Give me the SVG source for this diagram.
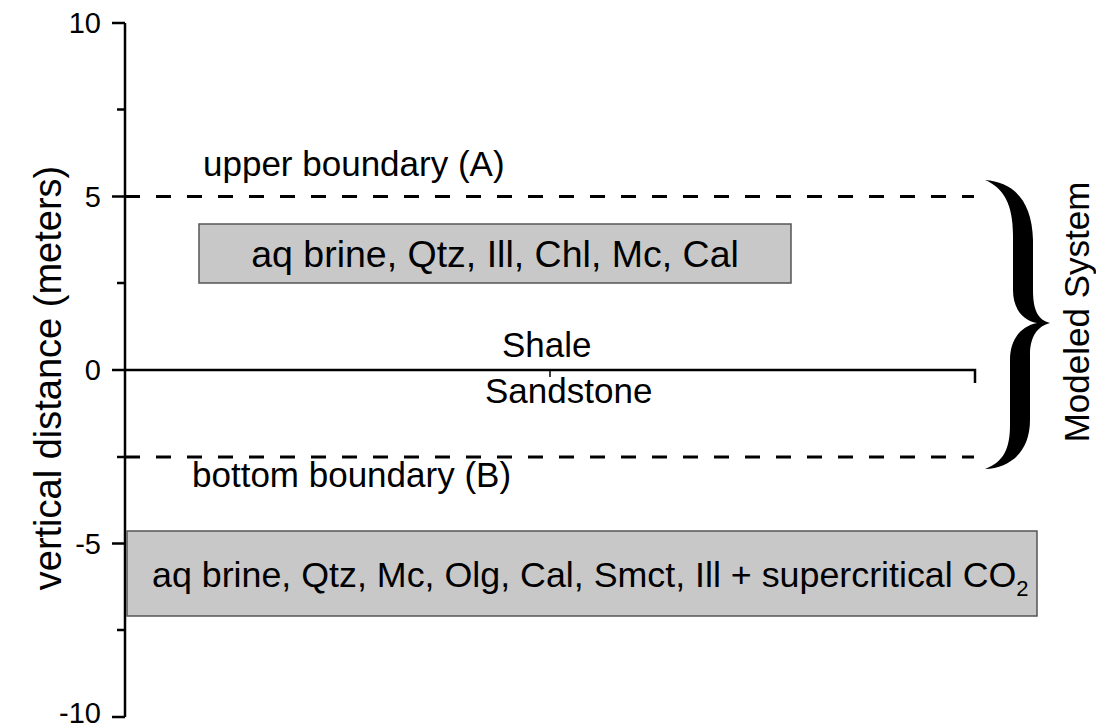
<svg xmlns="http://www.w3.org/2000/svg" width="1096" height="727" viewBox="0 0 1096 727">
  <style>
    .t { font-family: "Liberation Sans", Arial, sans-serif; fill: #000; }
    .lbl { font-size: 35px; }
    .tick { font-size: 29px; text-anchor: end; }
    .ax { stroke: #000; stroke-width: 2.5; fill: none; }
    .dash { stroke: #000; stroke-width: 2.8; stroke-dasharray: 15 16; fill: none; }
    .layer { fill: #c8c8c8; stroke: #555; stroke-width: 1.5; }
  </style>
  <rect width="1096" height="727" fill="#fff"/>

  <!-- vertical axis with ticks (34.7 px per metre, 0 m at y=370) -->
  <g id="axis">
    <line class="ax" x1="125" y1="23" x2="125" y2="717"/>
    <path class="ax" d="M112 23H125 M112 196.5H125 M112 370H125 M112 543.5H125 M112 717H125"/>
    <path class="ax" d="M117 109.5H125 M117 283H125 M117 457H125 M117 630H125"/>
    <text class="t tick" x="101" y="33">10</text>
    <text class="t tick" x="101" y="207">5</text>
    <text class="t tick" x="101" y="380">0</text>
    <text class="t tick" x="101" y="554">-5</text>
    <text class="t tick" x="101" y="723">-10</text>
    <text class="t" font-size="38" transform="translate(61 378) rotate(-90)" text-anchor="middle">vertical distance (meters)</text>
  </g>

  <!-- domain boundaries and the shale/sandstone contact -->
  <g id="connectors">
    <line class="dash" x1="125" y1="196.5" x2="974" y2="196.5"/>
    <line class="dash" x1="125" y1="457" x2="974" y2="457"/>
    <path class="ax" d="M125 370H975V383" stroke-width="2"/>
    <line x1="550" y1="370" x2="550" y2="377" stroke="#000" stroke-width="1.5"/>
  </g>

  <g id="upper-boundary">
    <text class="t lbl" x="203" y="176">upper boundary (A)</text>
  </g>
  <g id="bottom-boundary">
    <text class="t lbl" x="192" y="487">bottom boundary (B)</text>
  </g>

  <g id="shale">
    <text class="t lbl" x="502" y="357">Shale</text>
  </g>
  <g id="sandstone">
    <text class="t lbl" x="485" y="403">Sandstone</text>
  </g>

  <g id="shale-minerals">
    <rect class="layer" x="199" y="224" width="592" height="59"/>
    <text class="t" font-size="37.5" x="495" y="267" text-anchor="middle">aq brine, Qtz, Ill, Chl, Mc, Cal</text>
  </g>

  <g id="reservoir-minerals">
    <rect class="layer" x="127" y="531" width="910" height="85"/>
    <text class="t" font-size="35.8" x="152" y="587">aq brine, Qtz, Mc, Olg, Cal, Smct, Ill + supercritical CO<tspan font-size="22" dy="9">2</tspan></text>
  </g>

  <!-- curly brace spanning the modelled interval -->
  <g id="modeled-system">
    <path fill="#000" d="M985 180
      C1013 182 1032 200 1033 240
      L1033 290
      C1033 310 1038 320 1050 323
      C1038 326 1030 336 1030 355
      L1030 420
      C1030 452 1010 468 985 469
      C1004 462 1010 448 1010 425
      L1010 360
      C1010 338 1022 326 1037 323
      C1022 320 1013 308 1013 290
      L1013 235
      C1013 205 1004 188 985 180 Z"/>
    <text class="t lbl" transform="translate(1089 312) rotate(-90)" text-anchor="middle">Modeled System</text>
  </g>
</svg>
